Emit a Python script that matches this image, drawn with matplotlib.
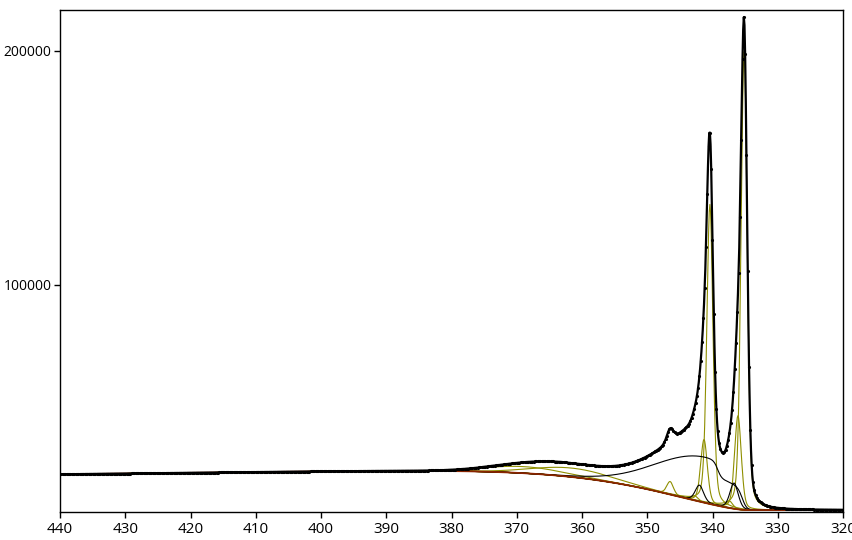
import numpy as np
import matplotlib
matplotlib.use("Agg")
import matplotlib.pyplot as plt

plt.rcParams['font.family'] = ['Open Sans', 'DejaVu Sans']

# binding energy range (eV)
be_start, be_stop, be_step = 440.0, 320.0, 0.1

# narrow fit components (olive): Pd 3d doublets + satellite
olive_pos = [335.15, 340.40, 336.10, 341.30, 337.40, 342.70, 346.50]
olive_height = [197000, 128000, 40000, 27000, 3000, 2000, 5500]
olive_fwhm = [1.1, 1.1, 1.2, 1.2, 1.2, 1.2, 1.2]

# narrow fit components (black)
black_pos = [336.70, 342.00]
black_height = [11000, 7000]
black_fwhm = [1.5, 1.5]

# broad olive humps
hump_pos = [361.5, 369.0]
hump_height = [3800, 2800]
hump_fwhm = [14.0, 14.0]

# broad black loss component
loss_pos, loss_height, loss_fwhm = 341.0, 19500, 17.8
loss_step, loss_frac = 339.2, 0.63
loss_edge = 335.4

# background
bg_low, bg_high, bg_slope = 3800, 19100, 32.0
bg_onset, bg_scale, bg_shape = 334.7, 19.8, 1.51

# asymmetric tails of the measured spectrum
tail_pos = [340.40, 335.15]
tail_amp = [21000, 10000]
tail_rise, tail_decay = 2.0, 5.0

OLIVE = '#8f8f00'
BGCOL = '#8b2500'


def gl(x, c, h, f, m=0.3):
    u = (x - c) / f
    return h * ((1 - m) * np.exp(-4 * np.log(2) * u ** 2) + m / (1 + 4 * u ** 2))


def sig(z):
    return 1 / (1 + np.exp(-z))


be = np.arange(be_stop, be_start + be_step / 2, be_step)

d = np.clip(be - bg_onset, 0, None)
frac = 1 - np.exp(-(d / bg_scale) ** bg_shape)
hi = bg_high + bg_slope * (440 - be)
bg = bg_low + (hi - bg_low) * frac

comps = []
for c, h, f in zip(olive_pos, olive_height, olive_fwhm):
    comps.append((gl(be, c, h, f), OLIVE))
for c, h, f in zip(black_pos, black_height, black_fwhm):
    comps.append((gl(be, c, h, f), 'black'))
for c, h, f in zip(hump_pos, hump_height, hump_fwhm):
    comps.append((gl(be, c, h, f, m=0.0), OLIVE))
loss = gl(be, loss_pos, loss_height, loss_fwhm, m=0.0)
loss *= (loss_frac + (1 - loss_frac) * sig((be - loss_step) / 0.3))
loss *= sig((be - loss_edge) / 0.35)
comps.append((loss, 'black'))

tail = np.zeros_like(be)
for c, a in zip(tail_pos, tail_amp):
    dd = np.clip(be - c, 0, None)
    tail += a * (1 - np.exp(-dd / tail_rise)) * np.exp(-dd / tail_decay)

total = bg + sum(cm for cm, _ in comps) + tail

fig = plt.figure(figsize=(8.53, 5.40), dpi=100)
ax = fig.add_axes([60 / 853, 1 - 512 / 540, 783 / 853, 502 / 540])

for cm, col in comps:
    ax.plot(be, bg + cm, color=col, lw=0.8)
ax.plot(be, bg, color=BGCOL, lw=1.3)
ax.plot(be, total, color='black', lw=1.6)
ax.plot(be, total, ls='none', marker='.', ms=2.5, color='black', markevery=2)

ax.set_xlim(440, 320)
ax.set_ylim(3000, 217500)
ax.set_xticks(np.arange(440, 319, -10))
ax.set_yticks([100000, 200000])
ax.tick_params(direction='out', length=4, width=1)
ax.tick_params(axis='x', labelsize=11)
ax.tick_params(axis='y', labelsize=10, pad=2)
for s in ax.spines.values():
    s.set_linewidth(1)

fig.savefig('out.png', dpi=100)
